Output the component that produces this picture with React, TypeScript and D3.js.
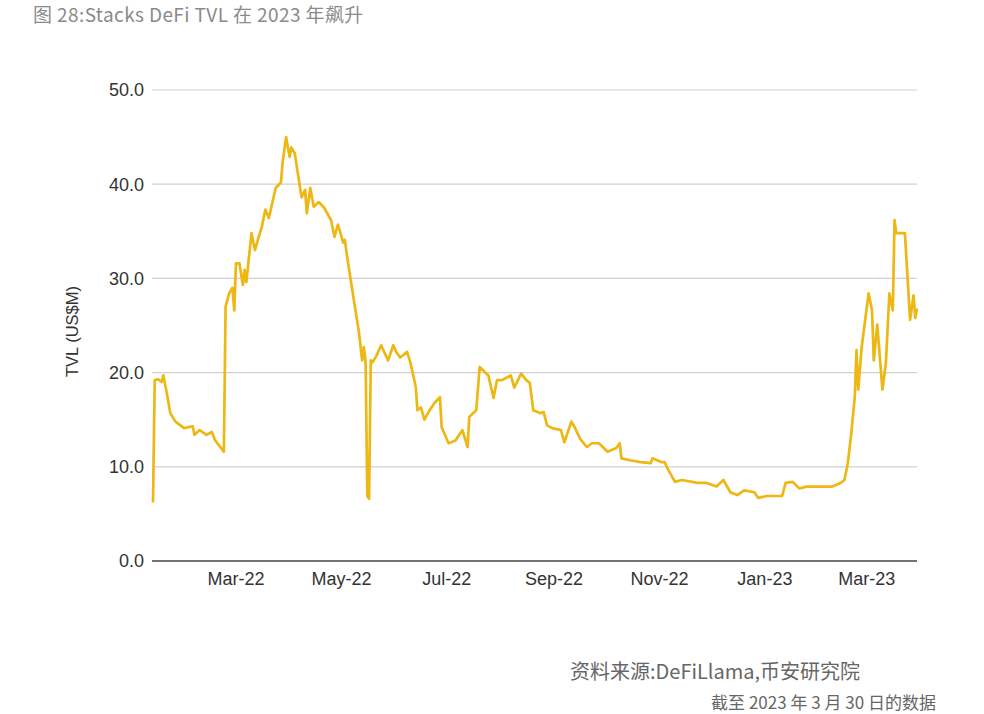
import React from "react";
import * as d3 from "d3";

const titleText = "图 28:Stacks DeFi TVL 在 2023 年飙升";
const sourceText = "资料来源:DeFiLlama,币安研究院";
const noteText = "截至 2023 年 3 月 30 日的数据";
const yAxisTitle = "TVL (US$M)";

const yTicks = [0, 10, 20, 30, 40, 50];
const xTickDates = ["2022-03-01", "2022-05-01", "2022-07-01", "2022-09-01", "2022-11-01", "2023-01-01", "2023-03-01"];
const xTickLabels = ["Mar-22", "May-22", "Jul-22", "Sep-22", "Nov-22", "Jan-23", "Mar-23"];

const dates = [
  "2022-01-12", "2022-01-13", "2022-01-15", "2022-01-17", "2022-01-18", "2022-01-20", "2022-01-22", "2022-01-25",
  "2022-01-30", "2022-02-04", "2022-02-05", "2022-02-08", "2022-02-12", "2022-02-15", "2022-02-17", "2022-02-22",
  "2022-02-23", "2022-02-25", "2022-02-27", "2022-02-28", "2022-03-01", "2022-03-03", "2022-03-05", "2022-03-06",
  "2022-03-07", "2022-03-10", "2022-03-12", "2022-03-14", "2022-03-16", "2022-03-18", "2022-03-20", "2022-03-24",
  "2022-03-27", "2022-03-28", "2022-03-30", "2022-04-01", "2022-04-02", "2022-04-04", "2022-04-07", "2022-04-08",
  "2022-04-10", "2022-04-11", "2022-04-13", "2022-04-15", "2022-04-18", "2022-04-21", "2022-04-25", "2022-04-27",
  "2022-04-29", "2022-04-30", "2022-05-02", "2022-05-03", "2022-05-04", "2022-05-07", "2022-05-10", "2022-05-11",
  "2022-05-13", "2022-05-14", "2022-05-15", "2022-05-16", "2022-05-17", "2022-05-18", "2022-05-19", "2022-05-21",
  "2022-05-24", "2022-05-28", "2022-05-31", "2022-06-02", "2022-06-04", "2022-06-08", "2022-06-10", "2022-06-13",
  "2022-06-14", "2022-06-16", "2022-06-18", "2022-06-21", "2022-06-24", "2022-06-27", "2022-06-28", "2022-07-02",
  "2022-07-06", "2022-07-10", "2022-07-13", "2022-07-14", "2022-07-18", "2022-07-20", "2022-07-25", "2022-07-28",
  "2022-07-30", "2022-08-02", "2022-08-07", "2022-08-09", "2022-08-13", "2022-08-16", "2022-08-18", "2022-08-20",
  "2022-08-24", "2022-08-26", "2022-08-28", "2022-08-31", "2022-09-05", "2022-09-07", "2022-09-11", "2022-09-13",
  "2022-09-16", "2022-09-20", "2022-09-23", "2022-09-27", "2022-10-02", "2022-10-07", "2022-10-09", "2022-10-10",
  "2022-10-15", "2022-10-21", "2022-10-27", "2022-10-28", "2022-11-02", "2022-11-04", "2022-11-06", "2022-11-10",
  "2022-11-14", "2022-11-23", "2022-11-28", "2022-12-04", "2022-12-08", "2022-12-12", "2022-12-16", "2022-12-20",
  "2022-12-26", "2022-12-28", "2023-01-02", "2023-01-11", "2023-01-13", "2023-01-17", "2023-01-21", "2023-01-25",
  "2023-02-02", "2023-02-09", "2023-02-14", "2023-02-16", "2023-02-18", "2023-02-20", "2023-02-22", "2023-02-23",
  "2023-02-24", "2023-02-26", "2023-03-02", "2023-03-04", "2023-03-05", "2023-03-07", "2023-03-10", "2023-03-12",
  "2023-03-14", "2023-03-16", "2023-03-17", "2023-03-18", "2023-03-23", "2023-03-26", "2023-03-28", "2023-03-29",
  "2023-03-30",
];

const tvl = [
  6.2, 19.2, 19.3, 19.0, 19.7, 17.8, 15.7, 14.8,
  14.1, 14.3, 13.4, 13.9, 13.4, 13.7, 12.8, 11.6,
  27.0, 28.4, 29.0, 26.6, 31.6, 31.6, 29.3, 30.9,
  29.6, 34.8, 33.0, 34.3, 35.5, 37.3, 36.4, 39.6,
  40.2, 42.3, 45.0, 42.9, 43.9, 43.3, 39.7, 38.6,
  39.4, 36.9, 39.6, 37.6, 38.1, 37.5, 36.2, 34.4,
  35.7, 35.1, 33.8, 34.1, 32.7, 29.1, 25.6, 24.5,
  21.3, 22.7, 21.1, 6.9, 6.6, 21.3, 21.1, 21.7,
  22.9, 21.3, 22.9, 22.1, 21.6, 22.2, 21.0, 18.5,
  16.0, 16.3, 15.0, 16.0, 16.8, 17.4, 14.2, 12.5,
  12.8, 13.9, 12.1, 15.3, 16.0, 20.6, 19.7, 17.3,
  19.2, 19.2, 19.7, 18.4, 19.9, 19.2, 18.9, 16.0,
  15.7, 15.8, 14.4, 14.1, 13.9, 12.6, 14.8, 14.2,
  13.0, 12.1, 12.5, 12.5, 11.6, 12.0, 12.5, 10.9,
  10.7, 10.5, 10.4, 10.9, 10.5, 10.5, 9.7, 8.4,
  8.6, 8.3, 8.3, 7.9, 8.6, 7.3, 7.0, 7.5,
  7.3, 6.7, 6.9, 6.9, 8.3, 8.4, 7.7, 7.9,
  7.9, 7.9, 8.3, 8.6, 10.4, 13.6, 17.4, 22.4,
  18.2, 22.7, 28.4, 26.6, 21.3, 25.1, 18.2, 21.0,
  28.4, 26.6, 36.2, 34.8, 34.8, 25.6, 28.2, 25.8,
  26.8,
];

const parse = d3.utcParse("%Y-%m-%d");

export default function App() {
  const W = 984;
  const H = 714;
  const left = 153;
  const right = 917;
  const top = 90;
  const bottom = 561;

  const x = d3
    .scaleUtc()
    .domain([parse("2022-01-12") as Date, parse("2023-03-30") as Date])
    .range([left, right]);
  const y = d3.scaleLinear().domain([0, 50]).range([bottom, top]);

  const data = dates.map((d, i) => ({ date: parse(d) as Date, v: tvl[i] }));
  const line = d3
    .line<{ date: Date; v: number }>()
    .x((d) => x(d.date))
    .y((d) => y(d.v));

  const sans = "'Liberation Sans', Arial, sans-serif";
  const cjk = "'Noto Sans CJK SC', 'Noto Sans', sans-serif";

  return (
    <svg
      width={W}
      height={H}
      style={{ position: "absolute", left: 0, top: 0, background: "#fff" }}
    >
      <rect x={0} y={0} width={W} height={H} fill="#fff" />
      <text x={33} y={22} fontFamily={cjk} fontSize={19} letterSpacing={0.4} fill="#8a8a8a">
        {titleText}
      </text>

      {yTicks.map((t) => (
        <g key={t}>
          {t !== 0 && (
            <line x1={152} x2={917} y1={y(t)} y2={y(t)} stroke="#d0d0d0" strokeWidth={1.2} />
          )}
          <text
            x={144}
            y={y(t)}
            dy="0.36em"
            textAnchor="end"
            fontFamily={sans}
            fontSize={18}
            fill="#333"
          >
            {d3.format(".1f")(t)}
          </text>
        </g>
      ))}

      <path d={line(data) || ""} fill="none" stroke="#EDB714" strokeWidth={2.7} strokeLinejoin="round" />

      <line x1={152} x2={917} y1={y(0)} y2={y(0)} stroke="#444" strokeWidth={1.6} />

      {xTickDates.map((d, i) => (
        <text
          key={d}
          x={x(parse(d) as Date)}
          y={585}
          textAnchor="middle"
          fontFamily={sans}
          fontSize={18}
          fill="#333"
        >
          {xTickLabels[i]}
        </text>
      ))}

      <text
        transform={`translate(78, ${(top + bottom) / 2 + 6}) rotate(-90)`}
        textAnchor="middle"
        fontFamily={sans}
        fontSize={16.5}
        fontWeight={500}
        fill="#333"
      >
        {yAxisTitle}
      </text>

      <text x={570} y={679} fontFamily={cjk} fontSize={20} fill="#666">
        {sourceText}
      </text>
      <text x={936} y={709} textAnchor="end" fontFamily={cjk} fontSize={17} fill="#666">
        {noteText}
      </text>
    </svg>
  );
}
